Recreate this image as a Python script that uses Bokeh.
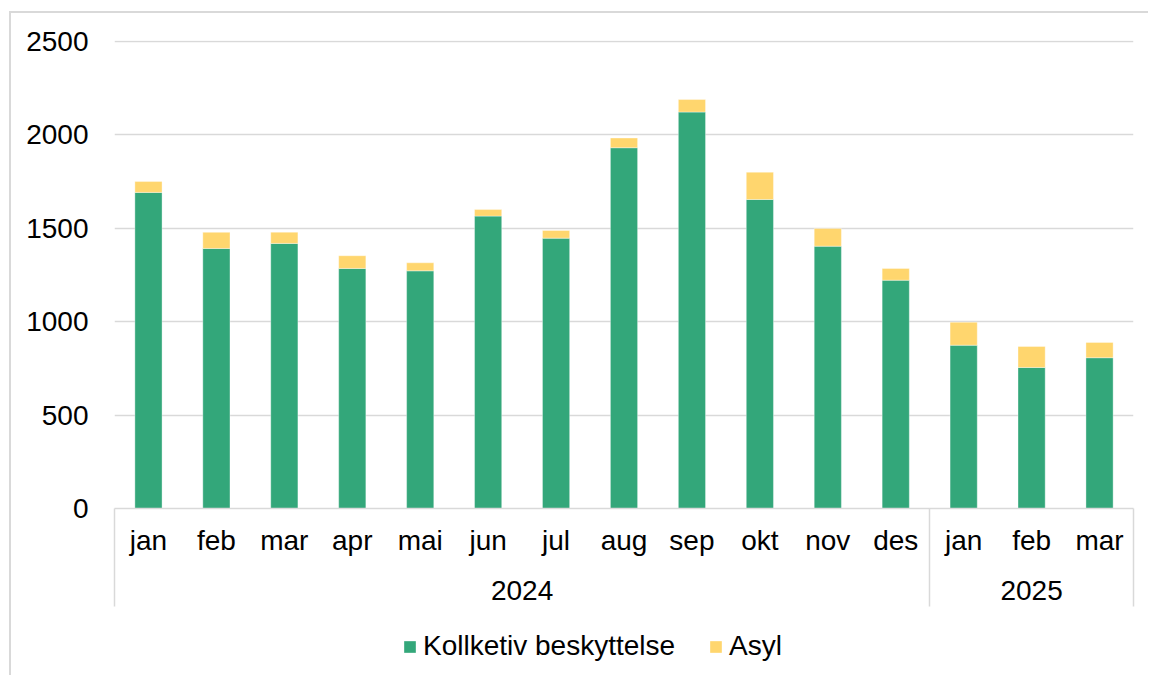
from bokeh.plotting import figure
from bokeh.layouts import column
from bokeh.models import (FactorRange, Range1d, FixedTicker, Legend, LegendItem,
                          ColumnDataSource, LinearAxis)
from bokeh.embed import file_html
from bokeh.resources import INLINE

# ---- data ----
years = ["2024"] * 12 + ["2025"] * 3
months = ["jan", "feb", "mar", "apr", "mai", "jun", "jul", "aug", "sep", "okt",
          "nov", "des", "jan", "feb", "mar"]
kollektiv = [1692, 1392, 1419, 1285, 1272, 1565, 1447, 1931, 2122, 1654,
             1404, 1222, 874, 755, 807]
asyl = [58, 86, 60, 68, 43, 35, 41, 52, 67, 146, 95, 63, 123, 112, 82]
y_ticks = [0, 500, 1000, 1500, 2000, 2500]
year_labels = ["2024", "2025"]
series_labels = ["Kollketiv beskyttelse", "Asyl"]

GREEN = "#33A77A"
YELLOW = "#FFD66E"
GRID = "#d9d9d9"
FONT = "Liberation Sans"
FS = "28px"

W = 1137
H1 = 603
H2 = 59

factors = list(zip(years, months))
source = ColumnDataSource(dict(x=factors, kollektiv=kollektiv, asyl=asyl))

x_range = FactorRange(*factors, factor_padding=0, group_padding=0, range_padding=0)
n = len(factors)

p = figure(x_range=x_range, y_range=Range1d(0, 2505),
           width=W, height=H1, output_backend="svg", toolbar_location=None,
           min_border_left=103, min_border_right=15, min_border_top=27,
           min_border_bottom=108)

rs = p.vbar_stack(["kollektiv", "asyl"], x="x", width=0.4, color=[GREEN, YELLOW],
                  source=source, line_color="white", line_width=0.6, line_alpha=0.6)

p.outline_line_color = None
p.xgrid.grid_line_color = None
p.ygrid.grid_line_color = GRID
p.ygrid.grid_line_width = 1.5

ya = p.yaxis[0]
ya.ticker = FixedTicker(ticks=y_ticks)
ya.axis_line_color = None
ya.major_tick_line_color = None
ya.minor_tick_line_color = None
ya.major_label_standoff = 20
ya.major_label_text_font = FONT
ya.major_label_text_font_size = FS
ya.major_label_text_color = "black"

# month labels (group level hidden; years drawn by the second axis)
xa = p.xaxis[0]
xa.axis_line_color = GRID
xa.axis_line_width = 1.5
xa.major_tick_line_color = None
xa.minor_tick_line_color = None
xa.major_label_standoff = 10
xa.major_label_text_font = FONT
xa.major_label_text_font_size = FS
xa.major_label_text_color = "black"
xa.group_text_font_size = "0px"
xa.group_text_color = None
xa.separator_line_color = None
xa.axis_label = " "
xa.axis_label_text_font_size = "10px"
xa.axis_label_standoff = 34

# year labels + category boundary lines (synthetic category coordinates)
year_groups = []
for y in year_labels:
    idx = [i for i, v in enumerate(years) if v == y]
    year_groups.append((idx[0], idx[-1] + 1))
bounds = sorted({b for g in year_groups for b in g})
centers = [(a + b) / 2 for a, b in year_groups]

ax2 = LinearAxis(ticker=FixedTicker(ticks=centers,
                                    minor_ticks=[min(max(b, 0.001), n - 0.001) for b in bounds]),
                 major_label_overrides={c: y for c, y in zip(centers, year_labels)},
                 axis_line_color=None, major_tick_line_color=None,
                 minor_tick_line_color=GRID, minor_tick_line_width=1.5,
                 minor_tick_in=98, minor_tick_out=0, major_tick_in=0, major_tick_out=0,
                 major_label_standoff=-26,
                 major_label_text_font=FONT, major_label_text_font_size=FS,
                 major_label_text_color="black")
p.add_layout(ax2, "below")

# legend strip (proxy renderers: a zero-height bar outside the visible range)
p2 = figure(width=W, height=H2, output_backend="svg", toolbar_location=None,
            x_range=Range1d(0, 1), y_range=Range1d(0, 1),
            x_axis_location=None, y_axis_location=None,
            min_border_left=0, min_border_right=0, min_border_top=0, min_border_bottom=0)
p2.grid.visible = False
p2.outline_line_color = None
proxy = ColumnDataSource(dict(x=[-5.0], top=[0.0]))
g1 = p2.vbar(x="x", top="top", width=0.4, fill_color=GREEN, line_color="white",
             line_width=0.6, line_alpha=0.6, source=proxy)
g2 = p2.vbar(x="x", top="top", width=0.4, fill_color=YELLOW, line_color="white",
             line_width=0.6, line_alpha=0.6, source=proxy)

legend = Legend(items=[LegendItem(label=series_labels[0], renderers=[g1]),
                       LegendItem(label=series_labels[1], renderers=[g2])],
                orientation="horizontal", location=(288, 13),
                glyph_width=15, glyph_height=15, label_standoff=6, spacing=33,
                padding=0, margin=0, border_line_color=None,
                background_fill_alpha=0,
                label_text_font=FONT, label_text_font_size=FS,
                label_text_color="black")
p2.add_layout(legend, "center")

layout = column(p, p2, spacing=0,
                styles={"margin-left": "9px", "margin-top": "11px",
                        "border-left": "2px solid #d9d9d9",
                        "border-top": "2px solid #d9d9d9"})

open("out.html", "w").write(file_html(layout, INLINE))
